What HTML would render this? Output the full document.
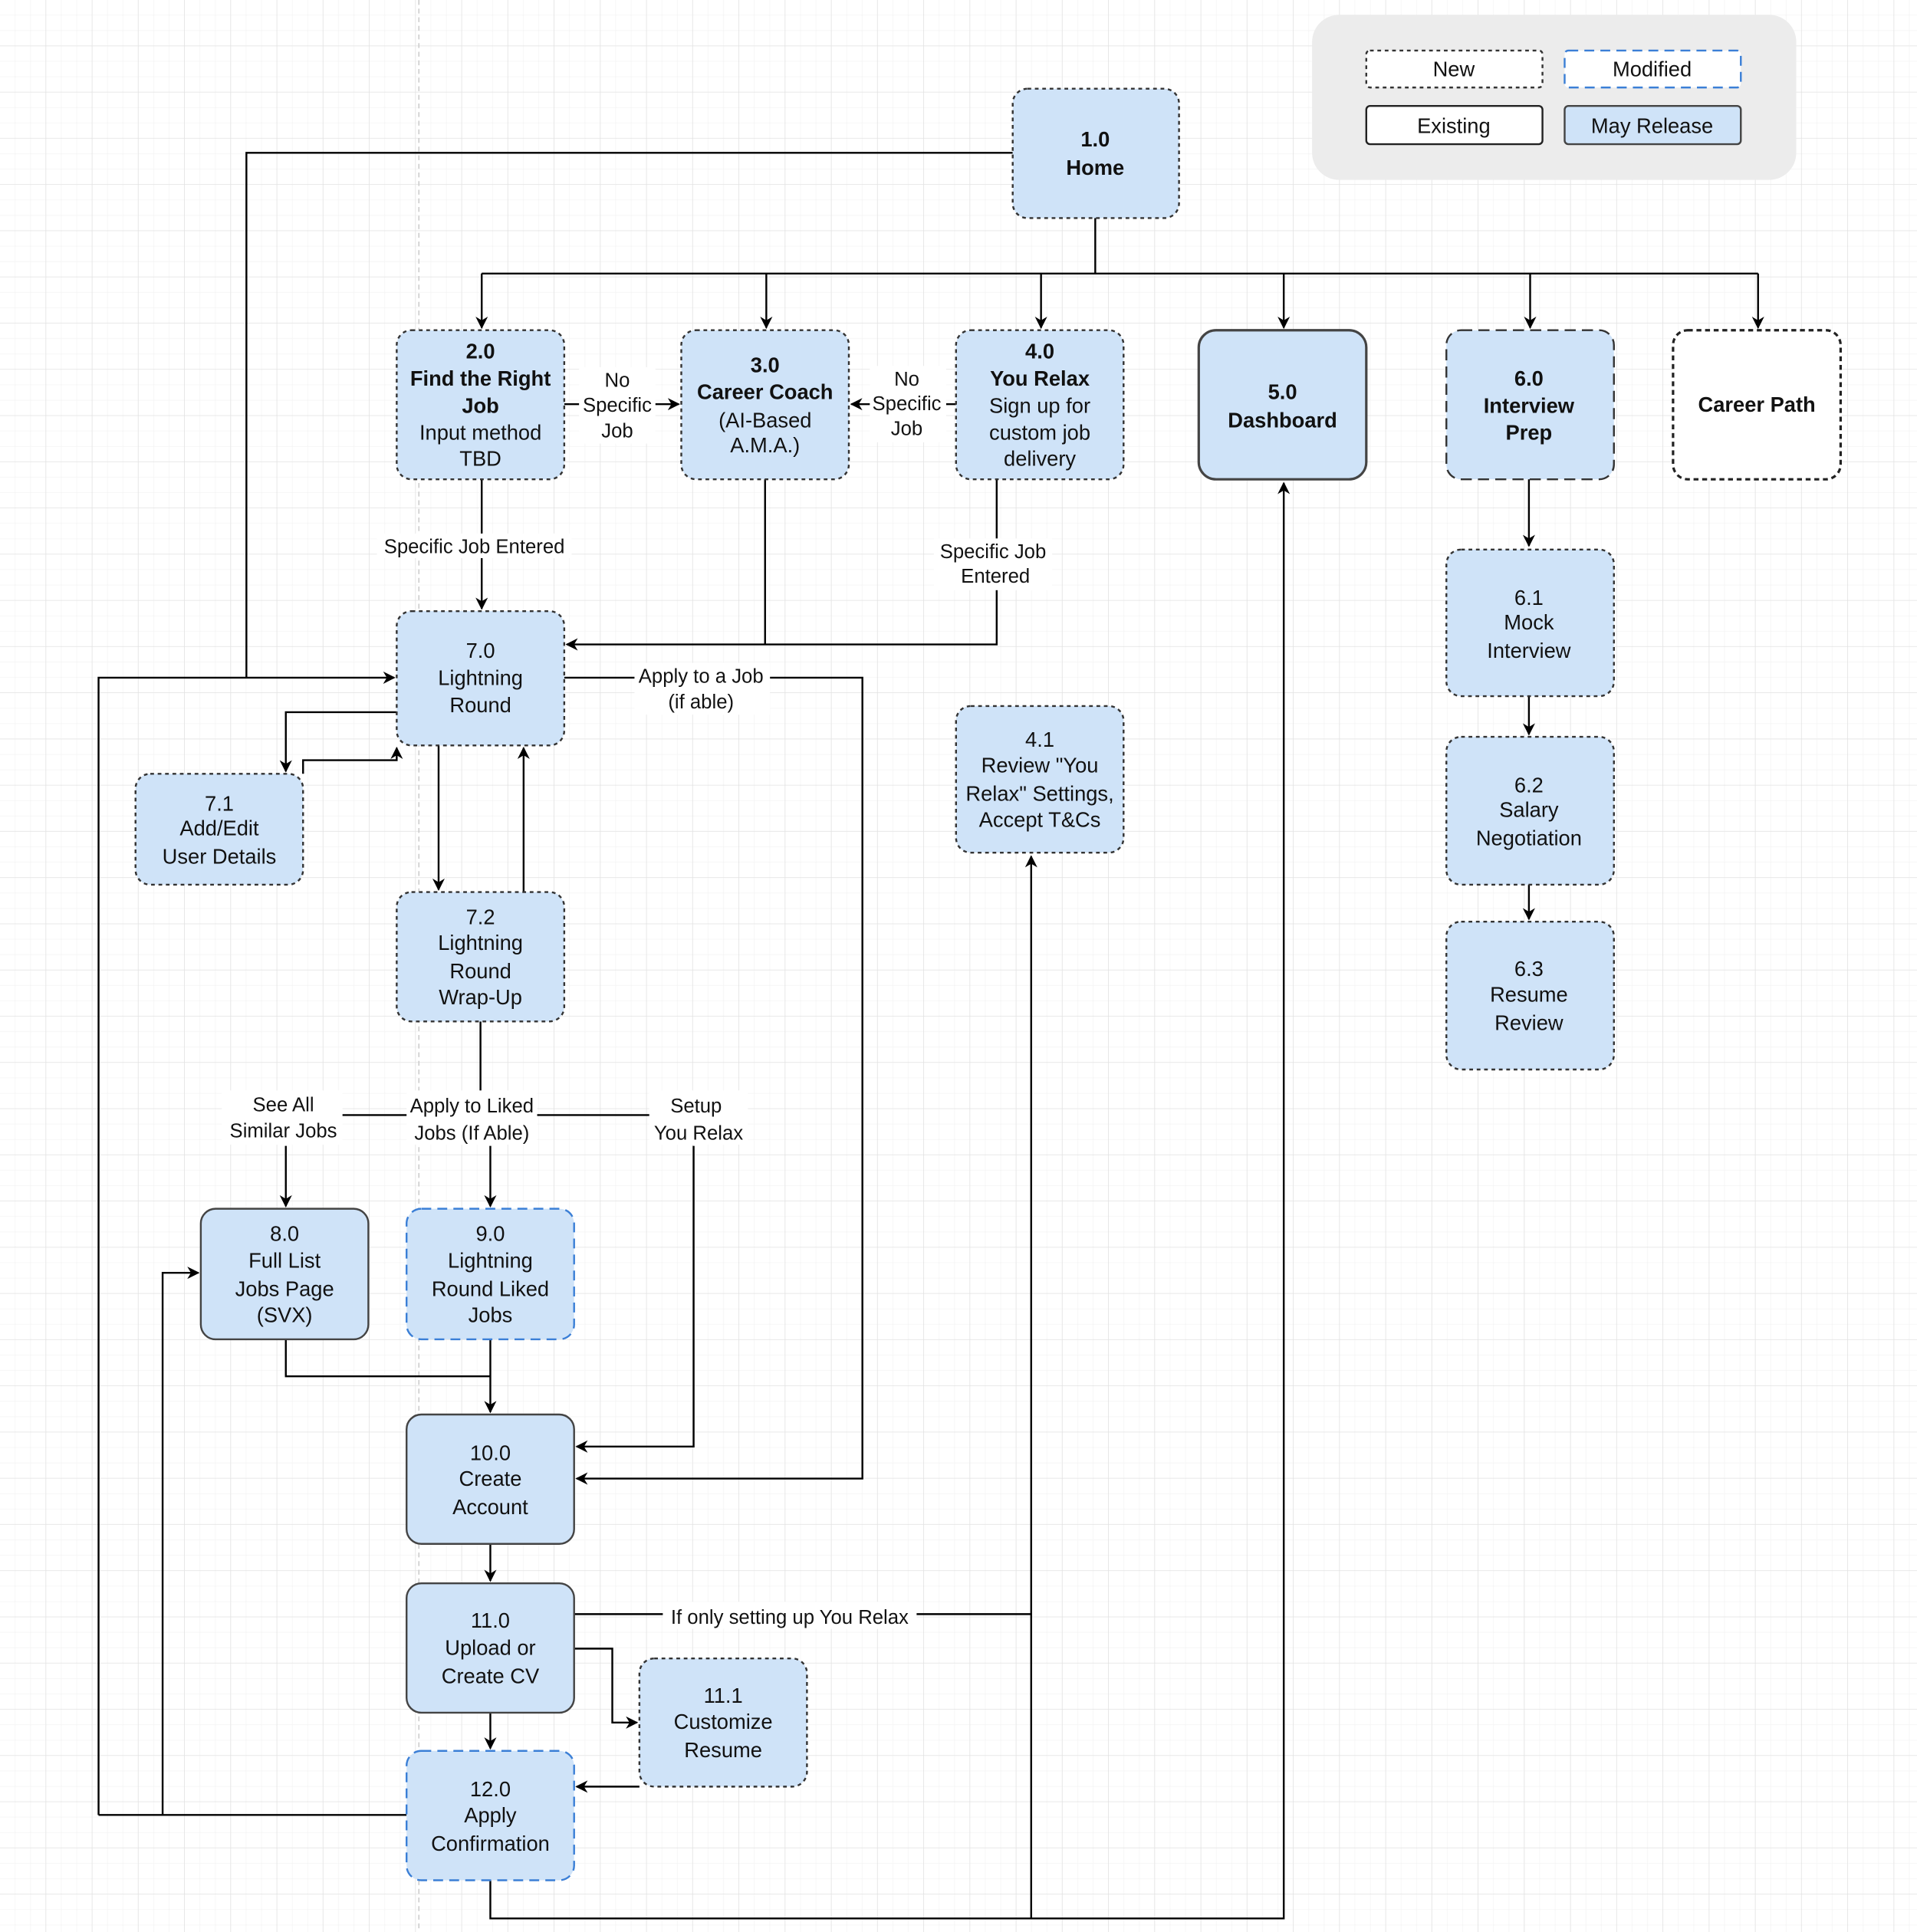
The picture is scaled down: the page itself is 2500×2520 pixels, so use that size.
<!DOCTYPE html>
<html><head><meta charset="utf-8"><style>
html,body{margin:0;padding:0;background:#fff}
svg{display:block}
text{font-family:"Liberation Sans",sans-serif;font-size:17px;fill:#111;text-anchor:middle}
.b{font-weight:bold}
.l{font-size:16px}
</style></head><body>
<svg width="2500" height="2520" viewBox="0 0 1556 1568" preserveAspectRatio="none" xmlns="http://www.w3.org/2000/svg">
<defs>
<pattern id="g1" width="12.5" height="12.5" patternUnits="userSpaceOnUse"><path d="M12.5 0V12.5H0" fill="none" stroke="#f1f1f1" stroke-width="0.8"/></pattern>
<pattern id="g2" width="37.5" height="37.5" patternUnits="userSpaceOnUse"><rect width="37.5" height="37.5" fill="url(#g1)"/><path d="M37.5 0V37.5H0" fill="none" stroke="#e2e2e2" stroke-width="1"/></pattern>
<marker id="a" markerWidth="10" markerHeight="10" refX="9" refY="5" orient="auto" markerUnits="userSpaceOnUse"><path d="M0,0 L10,5 L0,10 L3,5z" fill="#000"/></marker>
</defs>
<rect width="1560" height="1572.5" fill="url(#g2)"/>
<line x1="340" y1="0" x2="340" y2="1572" stroke="#ccc" stroke-dasharray="4 3" stroke-width="1"/>

<rect x="1065" y="12" width="393" height="134" rx="22" fill="#ececec"/>
<rect x="1109" y="41" width="143" height="30" rx="3" fill="#fff" stroke="#333" stroke-width="1.5" stroke-dasharray="3 3"/>
<text x="1180" y="62">New</text>
<rect x="1270" y="41" width="143" height="30" rx="3" fill="#fff" stroke="#3b7fd6" stroke-width="1.5" stroke-dasharray="8 5"/>
<text x="1341" y="62">Modified</text>
<rect x="1109" y="86" width="143" height="31" rx="3" fill="#fff" stroke="#222" stroke-width="1.5"/>
<text x="1180" y="108">Existing</text>
<rect x="1270" y="86" width="143" height="31" rx="3" fill="#cfe3f8" stroke="#444" stroke-width="1.5"/>
<text x="1341" y="108">May Release</text>

<g fill="none" stroke="#000" stroke-width="1.5">
<path d="M822 124H200V550"/>
<path d="M889 177V222M391 222H1427"/>
<path d="M391 222V266" marker-end="url(#a)"/>
<path d="M622 222V266" marker-end="url(#a)"/>
<path d="M845 222V266" marker-end="url(#a)"/>
<path d="M1042 222V266" marker-end="url(#a)"/>
<path d="M1242 222V266" marker-end="url(#a)"/>
<path d="M1427 222V266" marker-end="url(#a)"/>
<path d="M458 328H551" marker-end="url(#a)"/>
<path d="M776 328H691" marker-end="url(#a)"/>
<path d="M391 389V494" marker-end="url(#a)"/>
<path d="M621 389V523"/>
<path d="M809 389V523H460" marker-end="url(#a)"/>
<path d="M80 1473V550H320" marker-end="url(#a)"/>
<path d="M322 578H232V626" marker-end="url(#a)"/>
<path d="M246 628V617H322V607" marker-end="url(#a)"/>
<path d="M356 605V722" marker-end="url(#a)"/>
<path d="M425 724V607" marker-end="url(#a)"/>
<path d="M458 550H700V1200H468" marker-end="url(#a)"/>
<path d="M390 829V905M275 905H528"/>
<path d="M232 930V979" marker-end="url(#a)"/>
<path d="M398 930V979" marker-end="url(#a)"/>
<path d="M563 930V1174H468" marker-end="url(#a)"/>
<path d="M330 1473H80"/>
<path d="M132 1473V1033H161" marker-end="url(#a)"/>
<path d="M232 1087V1117H398"/>
<path d="M398 1087V1146" marker-end="url(#a)"/>
<path d="M398 1253V1283" marker-end="url(#a)"/>
<path d="M398 1390V1419" marker-end="url(#a)"/>
<path d="M466 1310H837"/>
<path d="M466 1338H497V1398H517" marker-end="url(#a)"/>
<path d="M519 1450H468" marker-end="url(#a)"/>
<path d="M837 1557V695" marker-end="url(#a)"/>
<path d="M398 1526V1557H1042V392" marker-end="url(#a)"/>
<path d="M1241 389V443" marker-end="url(#a)"/>
<path d="M1241 565V596" marker-end="url(#a)"/>
<path d="M1241 718V746" marker-end="url(#a)"/>
</g>

<g fill="#fff">
<rect x="470" y="298" width="62" height="62"/>
<rect x="706" y="297" width="62" height="62"/>
<rect x="306" y="433" width="158" height="20"/>
<rect x="758" y="437" width="96" height="42"/>
<rect x="515" y="538" width="110" height="42"/>
<rect x="180" y="885" width="98" height="44"/>
<rect x="330" y="885" width="106" height="44"/>
<rect x="527" y="885" width="80" height="44"/>
<rect x="538" y="1300" width="206" height="22"/>
</g>
<text class="l" x="501" y="314">No</text><text class="l" x="501" y="334">Specific</text><text class="l" x="501" y="355">Job</text>
<text class="l" x="736" y="313">No</text><text class="l" x="736" y="333">Specific</text><text class="l" x="736" y="353">Job</text>
<text class="l" x="385" y="449">Specific Job Entered</text>
<text class="l" x="806" y="453">Specific Job</text><text class="l" x="808" y="473">Entered</text>
<text class="l" x="569" y="554">Apply to a Job</text><text class="l" x="569" y="575">(if able)</text>
<text class="l" x="230" y="902">See All</text><text class="l" x="230" y="923">Similar Jobs</text>
<text class="l" x="383" y="903">Apply to Liked</text><text class="l" x="383" y="925">Jobs (If Able)</text>
<text class="l" x="565" y="903">Setup</text><text class="l" x="567" y="925">You Relax</text>
<text class="l" x="641" y="1318">If only setting up You Relax</text>

<g stroke-width="1.5">
<rect x="822" y="72" width="135" height="105" rx="12" fill="#cfe3f8" stroke="#333" stroke-dasharray="3 3"/>
<rect x="322" y="268" width="136" height="121" rx="12" fill="#cfe3f8" stroke="#333" stroke-dasharray="3 3"/>
<rect x="553" y="268" width="136" height="121" rx="12" fill="#cfe3f8" stroke="#333" stroke-dasharray="3 3"/>
<rect x="776" y="268" width="136" height="121" rx="12" fill="#cfe3f8" stroke="#333" stroke-dasharray="3 3"/>
<rect x="973" y="268" width="136" height="121" rx="14" fill="#cfe3f8" stroke="#444" stroke-width="2"/>
<rect x="1174" y="268" width="136" height="121" rx="12" fill="#cfe3f8" stroke="#333" stroke-dasharray="9 5"/>
<rect x="1358" y="268" width="136" height="121" rx="12" fill="#fff" stroke="#222" stroke-width="2" stroke-dasharray="4 3"/>
<rect x="322" y="496" width="136" height="109" rx="12" fill="#cfe3f8" stroke="#333" stroke-dasharray="3 3"/>
<rect x="110" y="628" width="136" height="90" rx="12" fill="#cfe3f8" stroke="#333" stroke-dasharray="3 3"/>
<rect x="322" y="724" width="136" height="105" rx="12" fill="#cfe3f8" stroke="#333" stroke-dasharray="3 3"/>
<rect x="776" y="573" width="136" height="119" rx="12" fill="#cfe3f8" stroke="#333" stroke-dasharray="3 3"/>
<rect x="1174" y="446" width="136" height="119" rx="12" fill="#cfe3f8" stroke="#333" stroke-dasharray="3 3"/>
<rect x="1174" y="598" width="136" height="120" rx="12" fill="#cfe3f8" stroke="#333" stroke-dasharray="3 3"/>
<rect x="1174" y="748" width="136" height="120" rx="12" fill="#cfe3f8" stroke="#333" stroke-dasharray="3 3"/>
<rect x="163" y="981" width="136" height="106" rx="12" fill="#cfe3f8" stroke="#444"/>
<rect x="330" y="981" width="136" height="106" rx="12" fill="#cfe3f8" stroke="#3b7fd6" stroke-dasharray="8 5"/>
<rect x="330" y="1148" width="136" height="105" rx="12" fill="#cfe3f8" stroke="#444"/>
<rect x="330" y="1285" width="136" height="105" rx="12" fill="#cfe3f8" stroke="#444"/>
<rect x="519" y="1346" width="136" height="104" rx="12" fill="#cfe3f8" stroke="#333" stroke-dasharray="3 3"/>
<rect x="330" y="1421" width="136" height="105" rx="12" fill="#cfe3f8" stroke="#3b7fd6" stroke-dasharray="8 5"/>
</g>

<text class="b" x="889" y="119">1.0</text><text class="b" x="889" y="142">Home</text>
<text class="b" x="390" y="291">2.0</text><text class="b" x="390" y="313">Find the Right</text><text class="b" x="390" y="335">Job</text><text x="390" y="357">Input method</text><text x="390" y="378">TBD</text>
<text class="b" x="621" y="302">3.0</text><text class="b" x="621" y="324">Career Coach</text><text x="621" y="347">(AI-Based</text><text x="621" y="367">A.M.A.)</text>
<text class="b" x="844" y="291">4.0</text><text class="b" x="844" y="313">You Relax</text><text x="844" y="335">Sign up for</text><text x="844" y="357">custom job</text><text x="844" y="378">delivery</text>
<text class="b" x="1041" y="324">5.0</text><text class="b" x="1041" y="347">Dashboard</text>
<text class="b" x="1241" y="313">6.0</text><text class="b" x="1241" y="335">Interview</text><text class="b" x="1241" y="357">Prep</text>
<text class="b" x="1426" y="334">Career Path</text>
<text x="390" y="534">7.0</text><text x="390" y="556">Lightning</text><text x="390" y="578">Round</text>
<text x="178" y="658">7.1</text><text x="178" y="678">Add/Edit</text><text x="178" y="701">User Details</text>
<text x="390" y="750">7.2</text><text x="390" y="771">Lightning</text><text x="390" y="794">Round</text><text x="390" y="815">Wrap-Up</text>
<text x="844" y="606">4.1</text><text x="844" y="627">Review "You</text><text x="844" y="650">Relax" Settings,</text><text x="844" y="671">Accept T&amp;Cs</text>
<text x="1241" y="491">6.1</text><text x="1241" y="511">Mock</text><text x="1241" y="534">Interview</text>
<text x="1241" y="643">6.2</text><text x="1241" y="663">Salary</text><text x="1241" y="686">Negotiation</text>
<text x="1241" y="792">6.3</text><text x="1241" y="813">Resume</text><text x="1241" y="836">Review</text>
<text x="231" y="1007">8.0</text><text x="231" y="1029">Full List</text><text x="231" y="1052">Jobs Page</text><text x="231" y="1073">(SVX)</text>
<text x="398" y="1007">9.0</text><text x="398" y="1029">Lightning</text><text x="398" y="1052">Round Liked</text><text x="398" y="1073">Jobs</text>
<text x="398" y="1185">10.0</text><text x="398" y="1206">Create</text><text x="398" y="1229">Account</text>
<text x="398" y="1321">11.0</text><text x="398" y="1343">Upload or</text><text x="398" y="1366">Create CV</text>
<text x="587" y="1382">11.1</text><text x="587" y="1403">Customize</text><text x="587" y="1426">Resume</text>
<text x="398" y="1458">12.0</text><text x="398" y="1479">Apply</text><text x="398" y="1502">Confirmation</text>
</svg>
</body></html>
